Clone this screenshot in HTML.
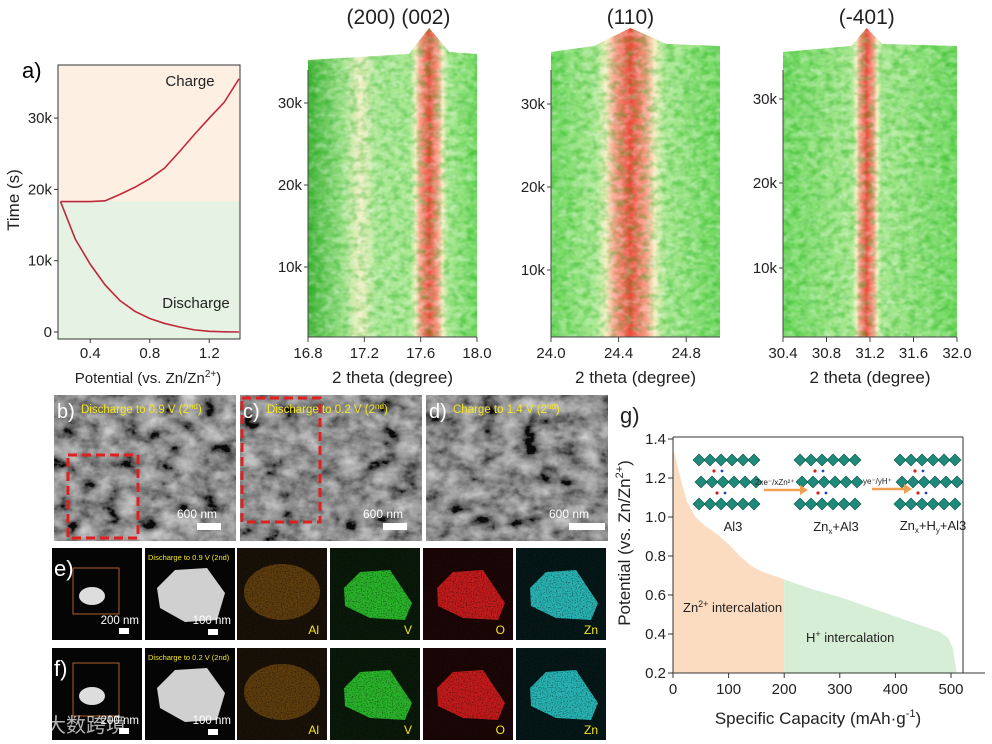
<!DOCTYPE html>
<html><head><meta charset="utf-8"><style>
body{margin:0;background:#fff;}
svg{display:block;font-family:"Liberation Sans",Arial,sans-serif;}
</style></head><body>
<svg width="992" height="744" viewBox="0 0 992 744" id="fig">
<defs>
<filter id="noise" x="0" y="0" width="100%" height="100%"><feTurbulence type="fractalNoise" baseFrequency="0.12 0.16" numOctaves="2" seed="3"/><feColorMatrix type="matrix" values="0 0 0 0 1  0 0 0 0 1  0 0 0 0 1  0 0 0 1.4 -0.55"/></filter>
<filter id="noiseDark" x="0" y="0" width="100%" height="100%"><feTurbulence type="fractalNoise" baseFrequency="0.12 0.16" numOctaves="2" seed="7"/><feColorMatrix type="matrix" values="0 0 0 0 0  0 0 0 0 0.35  0 0 0 0 0  0 0 0 1.6 -0.65"/></filter>
<filter id="sem" x="0" y="0" width="100%" height="100%"><feTurbulence type="fractalNoise" baseFrequency="0.05 0.07" numOctaves="4" seed="5"/><feColorMatrix type="matrix" values="0.6 0.6 0.6 0 -0.62  0.6 0.6 0.6 0 -0.62  0.6 0.6 0.6 0 -0.62  0 0 0 0 1"/></filter>
<filter id="speck" x="0" y="0" width="100%" height="100%"><feTurbulence type="fractalNoise" baseFrequency="0.8" numOctaves="1" seed="2"/><feColorMatrix type="matrix" values="0 0 0 0 0 0 0 0 0 0 0 0 0 0 0 0 0 0 3 -1.4"/></filter>
</defs>
<g id="panelA"></g>
<g id="heat"></g>
<g id="micro"></g>
<g id="panelG"></g>
</svg>
<script>
const NS='http://www.w3.org/2000/svg';
function mk(p,t,a,txt){const e=document.createElementNS(NS,t);for(const k in a)e.setAttribute(k,a[k]);if(txt!==undefined)e.textContent=txt;p.appendChild(e);return e;}

// ---- Panel a data ----
const aDisV=[0.2,0.3,0.4,0.5,0.6,0.7,0.8,0.9,1.0,1.1,1.2,1.3,1.4];
const aDisT=[18300,13000,9500,6600,4400,2900,1900,1200,700,300,100,30,0];
const aChgV=[0.2,0.3,0.4,0.5,0.6,0.7,0.8,0.9,1.0,1.1,1.2,1.3,1.4];
const aChgT=[18300,18300,18300,18400,19300,20300,21500,23000,25300,27700,30000,32200,35500];
const aXTicks=[0.4,0.8,1.2];
const aYTicks=[0,10000,20000,30000];
const aYLabels=['0','10k','20k','30k'];
const aSplit=18300;

const A=document.getElementById('panelA');
const ax=v=>60.5+(v-0.2)/1.2*178.5, ay=t=>332-t/10000*71.3;
mk(A,'text',{x:22,y:78,'font-size':22,},'a)');
mk(A,'rect',{x:58,y:65,width:182,height:ay(aSplit)-65,fill:'#fdf0e3',});
mk(A,'rect',{x:58,y:ay(aSplit),width:182,height:339-ay(aSplit),fill:'#e6f3e4',});
mk(A,'rect',{x:58,y:65,width:182,height:274,fill:'none',stroke:'#333','stroke-width':1,});
mk(A,'path',{d:aDisV.map((v,i)=>(i?'L':'M')+ax(v)+','+ay(aDisT[i])).join(''),fill:'none',stroke:'#c0283a','stroke-width':1.6,});
mk(A,'path',{d:aChgV.map((v,i)=>(i?'L':'M')+ax(v)+','+ay(aChgT[i])).join(''),fill:'none',stroke:'#c0283a','stroke-width':1.6,});
aXTicks.forEach(v=>{mk(A,'line',{x1:ax(v),x2:ax(v),y1:339,y2:343,stroke:'#333'});
 const t=mk(A,'text',{x:ax(v),y:358,'font-size':15,'text-anchor':'middle',fill:'#222'},v.toFixed(1));});
aYTicks.forEach((v,i)=>{mk(A,'line',{x1:54,x2:58,y1:ay(v),y2:ay(v),stroke:'#333'});
 const t=mk(A,'text',{x:52,y:ay(v)+5,'font-size':15,'text-anchor':'end',fill:'#222'},aYLabels[i]);});
mk(A,'text',{x:190,y:86,'font-size':15,'text-anchor':'middle',fill:'#222',},'Charge');
mk(A,'text',{x:196,y:308,'font-size':15,'text-anchor':'middle',fill:'#222',},'Discharge');
const at=mk(A,'text',{x:148,y:383,'font-size':15,'text-anchor':'middle',fill:'#222',},'Potential (vs. Zn/Zn');
mk(at,'tspan',{'font-size':10,dy:-6},'2+');mk(at,'tspan',{dy:6},')');
mk(A,'text',{x:0,y:0,'font-size':17,'text-anchor':'middle',fill:'#222',transform:'translate(19,200) rotate(-90)',},'Time (s)');

// ---- XRD heatmaps ----
const hTitles=['(200)  (002)','(110)','(-401)'];
const hXmin=[16.8,24.0,30.4], hXmax=[18.0,25.0,32.0];
const hPeakCenter=[17.66,24.47,31.17];
const hPeakWidth=[0.08,0.12,0.08];
const hSidePeak=[17.17,null,null];
const hXTicks=[[16.8,17.2,17.6,18.0],[24.0,24.4,24.8],[30.4,30.8,31.2,31.6,32.0]];
const hYTicks=[10000,20000,30000];
const hYLabels=['10k','20k','30k'];
const hBox=[[308,477],[551,720],[783,957]];
const hTickY=[[267,185,103],[270,187,104],[268,183,99]];
const H=document.getElementById('heat');
const defs=document.querySelector('defs');
hTitles.forEach((ttl,k)=>{
 const [x0,x1]=hBox[k];
 const sx=v=>x0+(v-hXmin[k])/(hXmax[k]-hXmin[k])*(x1-x0);
 const g=mk(H,'g',{});
 const gid='hg'+k;const lg=mk(defs,'linearGradient',{id:gid,x1:0,x2:1,y1:0,y2:0});
 const stops=[[hXmin[k],k===0?'#3fb235':'#6fd85e']];
 if(hSidePeak[k]!==null){stops.push([hSidePeak[k]-0.12,'#9fe28a'],[hSidePeak[k],'#f2f0c4'],[hSidePeak[k]+0.12,'#a9e793']);}
 const c=hPeakCenter[k],w=hPeakWidth[k];
 stops.push([c-w*1.7,'#a8e890'],[c-w*1.2,'#f4efbf'],[c-w*0.8,'#f6a088'],[c,'#ec4a3a'],[c+w*0.8,'#f6a088'],[c+w*1.2,'#f4efbf'],[c+w*1.7,'#a8e890'],[hXmax[k],'#6fd85e']);
 stops.forEach(s=>mk(lg,'stop',{offset:Math.max(0,Math.min(1,(s[0]-hXmin[k])/(hXmax[k]-hXmin[k]))),'stop-color':s[1]}));
 const top=k===0?56:48, py=sx(c), hw=w*1.8/(hXmax[k]-hXmin[k])*(x1-x0);
 const d=`M${x0},${top+4} L${py-hw},${top-2} L${py},28 L${py+hw},${top-4} L${x1},${top-2} L${x1},337 L${x0},337 Z`;
 const cp=mk(defs,'clipPath',{id:'hc'+k});mk(cp,'path',{d:d});
 const r=mk(g,'path',{d:d,fill:`url(#${gid})`});
 const cg=mk(g,'g',{'clip-path':`url(#hc${k})`});
 mk(cg,'rect',{x:x0,y:20,width:x1-x0,height:320,filter:'url(#noise)',opacity:0.55});
 mk(cg,'rect',{x:x0,y:20,width:x1-x0,height:320,filter:'url(#noiseDark)',opacity:0.5});
 mk(g,'line',{x1:x0,x2:x1,y1:337,y2:337,stroke:'#444'});
 mk(g,'line',{x1:x0,x2:x0,y1:70,y2:337,stroke:'#444'});
 hXTicks[k].forEach(v=>{mk(g,'line',{x1:sx(v),x2:sx(v),y1:337,y2:342,stroke:'#444'});
  const t=mk(g,'text',{x:sx(v),y:358,'font-size':15,'text-anchor':'middle',fill:'#222'},v.toFixed(1));});
 hYTicks.forEach((v,i)=>{mk(g,'line',{x1:x0-4,x2:x0,y1:hTickY[k][i],y2:hTickY[k][i],stroke:'#444'});
  const t=mk(g,'text',{x:x0-6,y:hTickY[k][i]+5,'font-size':15,'text-anchor':'end',fill:'#222'},hYLabels[i]);});
 const tt=mk(g,'text',{x:k===0?(x0+x1)/2+6:sx(c),y:24,'font-size':21,'text-anchor':'middle',fill:'#222','xml:space':'preserve'},ttl);
 const xt=mk(g,'text',{x:(x0+x1)/2,y:383,'font-size':17,'text-anchor':'middle',fill:'#222'},'2 theta (degree)');
});

// ---- Micrographs ----
const M=document.getElementById('micro');
const sem=[[54,'b)','Discharge to 0.9 V (2'],[240,'c)','Discharge to 0.2 V (2'],[426,'d)','Charge to 1.4 V (2']];
const semSup=['nd','nd','nd'];
sem.forEach((s,i)=>{const x=s[0];const g=mk(M,'g',{});
 mk(g,'rect',{x:x,y:395,width:182,height:146,fill:'#6e6e6e'});
 mk(g,'rect',{x:x,y:395,width:182,height:146,filter:'url(#sem)',opacity:0.9});
 mk(g,'text',{x:x+3,y:418,'font-size':20,fill:'#fff'},s[1]);
 const t=mk(g,'text',{x:x+27,y:413,'font-size':11.5,fill:'#f5e620'},s[2]);mk(t,'tspan',{'font-size':8,dy:-4},semSup[i]);mk(t,'tspan',{dy:4},')');
 mk(g,'text',{x:x+163,y:518,'font-size':12,fill:'#fff','text-anchor':'end'},'600 nm');
 mk(g,'rect',{x:x+143,y:523,width:i===2?36:24,height:7,fill:'#fff'});
});
mk(M,'rect',{x:68,y:455,width:70,height:83,fill:'none',stroke:'#e02020','stroke-width':3,'stroke-dasharray':'9,5',});
mk(M,'rect',{x:242,y:398,width:78,height:124,fill:'none',stroke:'#e02020','stroke-width':3,'stroke-dasharray':'9,5',});
const tileX=[52,145,237,330,423,516];
const rowY=[548,648];
const tileCol=[null,null,'#e0901a','#30d030','#e02020','#30d0d0'];
const tileLbl=['','','Al','V','O','Zn'];
const tileBg=['#050505','#050505','#1a1208','#0a1a0a','#1c0606','#061818'];
rowY.forEach((y,r)=>{tileX.forEach((x,i)=>{const g=mk(M,'g',{});
 mk(g,'rect',{x:x,y:y,width:90,height:92,fill:tileBg[i]});
 const cx=x+45,cy=y+44;
 if(i===0){mk(g,'rect',{x:x+21,y:y+(r?15:20),width:46,height:r?53:46,fill:'none',stroke:'#b0602a'});mk(g,'ellipse',{cx:x+40,cy:y+48,rx:13,ry:9,fill:'#ddd'});
  mk(g,'text',{x:x+2,y:y+28,'font-size':22,fill:'#fff'},r?'f)':'e)');
  mk(g,'text',{x:x+87,y:y+76,'font-size':11.5,fill:'#fff','text-anchor':'end'},'200 nm');mk(g,'rect',{x:x+67,y:y+80,width:10,height:6,fill:'#fff'});}
 else if(i===1){mk(g,'path',{d:`M${x+12},${y+40} L${x+30},${y+22} L${x+62},${y+20} L${x+80},${y+45} L${x+72},${y+72} L${x+40},${y+74} L${x+15},${y+60}Z`,fill:'#d0d0d0'});
  mk(g,'text',{x:x+3,y:y+12,'font-size':7.5,fill:'#f5e620'},r?'Discharge to 0.2 V (2nd)':'Discharge to 0.9 V (2nd)');
  mk(g,'text',{x:x+86,y:y+76,'font-size':11.5,fill:'#fff','text-anchor':'end'},'100 nm');mk(g,'rect',{x:x+63,y:y+81,width:10,height:6,fill:'#fff'});}
 else{ if(i===2){mk(g,'ellipse',{cx:cx,cy:cy,rx:38,ry:28,fill:tileCol[i],opacity:0.35});}
  else{mk(g,'path',{d:`M${x+14},${y+40} L${x+30},${y+24} L${x+60},${y+22} L${x+82},${y+55} L${x+75},${y+72} L${x+40},${y+70} L${x+15},${y+58}Z`,fill:tileCol[i],opacity:0.85});}
  mk(g,'rect',{x:x,y:y,width:90,height:92,filter:'url(#speck)',opacity:0.5});
  mk(g,'text',{x:x+82,y:y+86,'font-size':12,fill:'#f5e620','text-anchor':'end'},tileLbl[i]);}
});});
mk(M,'text',{x:46,y:732,'font-size':20,fill:'#fff',opacity:0.7,'font-family':'Noto Sans CJK SC, sans-serif',},'大数跨境');

// ---- Panel g data ----
const gCap=[0,5,15,25,40,60,80,100,120,140,160,180,200,250,300,350,400,450,480,495,503,507,510];
const gPot=[1.35,1.30,1.18,1.08,1.00,0.95,0.91,0.86,0.80,0.75,0.72,0.70,0.68,0.63,0.59,0.54,0.49,0.44,0.41,0.38,0.33,0.26,0.20];
const gSplit=200;
const gXTicks=[0,100,200,300,400,500];
const gYTicks=[0.2,0.4,0.6,0.8,1.0,1.2,1.4];
const G=document.getElementById('panelG');
const gx=c=>673+c/500*278, gy=p=>673-(p-0.2)/1.2*234;
mk(G,'text',{x:620,y:423,'font-size':22,fill:'#222',},'g)');
function area(from,to){let pts=[];for(let i=0;i<gCap.length;i++){if(gCap[i]>=from&&gCap[i]<=to)pts.push([gCap[i],gPot[i]]);}
 return 'M'+gx(pts[0][0])+','+gy(0.2)+pts.map(p=>'L'+gx(p[0])+','+gy(p[1])).join('')+'L'+gx(pts[pts.length-1][0])+','+gy(0.2)+'Z';}
mk(G,'path',{d:area(0,gSplit),fill:'#fbdcc0',});
mk(G,'path',{d:area(gSplit,600),fill:'#d6eed5',});
mk(G,'path',{d:`M673,437 L673,673 L985,673`,fill:'none',stroke:'#333',});
mk(G,'line',{x1:963,x2:963,y1:437,y2:673,stroke:'#333'});mk(G,'line',{x1:673,x2:963,y1:437,y2:437,stroke:'#333'});
gXTicks.forEach(v=>{mk(G,'line',{x1:gx(v),x2:gx(v),y1:673,y2:678,stroke:'#333'});
 const t=mk(G,'text',{x:gx(v),y:694,'font-size':15,'text-anchor':'middle',fill:'#222'},String(v));});
gYTicks.forEach(v=>{mk(G,'line',{x1:668,x2:673,y1:gy(v),y2:gy(v),stroke:'#333'});
 const t=mk(G,'text',{x:666,y:gy(v)+5,'font-size':15,'text-anchor':'end',fill:'#222'},v.toFixed(1));});
const gxT=mk(G,'text',{x:818,y:724,'font-size':17,'text-anchor':'middle',fill:'#222',},'Specific Capacity (mAh·g');
mk(gxT,'tspan',{'font-size':11,dy:-7},'-1');mk(gxT,'tspan',{dy:7},')');
const gyT=mk(G,'text',{x:0,y:0,'font-size':17,'text-anchor':'middle',fill:'#222',transform:'translate(630,543) rotate(-90)',},'Potential (vs. Zn/Zn');
mk(gyT,'tspan',{'font-size':11,dy:-7},'2+');mk(gyT,'tspan',{dy:7},')');
const zl=mk(G,'text',{x:683,y:612,'font-size':13,fill:'#222',},'Zn');mk(zl,'tspan',{'font-size':9,dy:-5},'2+');mk(zl,'tspan',{dy:5},' intercalation');
const hl=mk(G,'text',{x:806,y:642,'font-size':13,fill:'#222',},'H');mk(hl,'tspan',{'font-size':9,dy:-5},'+');mk(hl,'tspan',{dy:5},' intercalation');
function crystal(cx,cy){const g=mk(G,'g',{});
 [-22,0,22].forEach((dy,ri)=>{for(let j=0;j<6;j++){const x=cx-30+j*11+(ri===1?2:0),y=cy+dy;mk(g,'path',{d:`M${x},${y-6}L${x+6},${y}L${x},${y+6}L${x-6},${y}Z`,fill:'#1f8a7a',stroke:'#0f5048','stroke-width':0.6});}});
 mk(g,'circle',{cx:cx-15,cy:cy-11,r:1.6,fill:'#d02020'});mk(g,'circle',{cx:cx-7,cy:cy-11,r:1.4,fill:'#2040c0'});mk(g,'circle',{cx:cx-12,cy:cy+11,r:1.6,fill:'#d02020'});mk(g,'circle',{cx:cx-4,cy:cy+11,r:1.4,fill:'#2040c0'});
 return g;}
crystal(729,482);crystal(830,482);crystal(930,482);
mk(G,'text',{x:733,y:531,'font-size':13,'text-anchor':'middle',fill:'#222'},'Al3');
const z1=mk(G,'text',{x:836,y:531,'font-size':13,'text-anchor':'middle',fill:'#222'},'Zn');mk(z1,'tspan',{'font-size':8,dy:3},'x');mk(z1,'tspan',{dy:-3},'+Al3');
const z2=mk(G,'text',{x:933,y:530,'font-size':13,'text-anchor':'middle',fill:'#222'},'Zn');mk(z2,'tspan',{'font-size':8,dy:3},'x');mk(z2,'tspan',{dy:-3},'+H');mk(z2,'tspan',{'font-size':8,dy:3},'y');mk(z2,'tspan',{dy:-3},'+Al3');
mk(G,'text',{x:755,y:485,'font-size':8,fill:'#222'},'2xe⁻/xZn²⁺');
mk(G,'text',{x:863,y:484,'font-size':8,fill:'#222'},'ye⁻/yH⁺');
mk(G,'line',{x1:764,x2:800,y1:490,y2:490,stroke:'#f0a050','stroke-width':2.5,});
mk(G,'path',{d:'M800,485 L808,490 L800,495Z',fill:'#f0a050'});
mk(G,'line',{x1:872,x2:904,y1:489,y2:489,stroke:'#f0a050','stroke-width':2.5,});
mk(G,'path',{d:'M904,484 L912,489 L904,494Z',fill:'#f0a050'});
</script>
</body></html>
